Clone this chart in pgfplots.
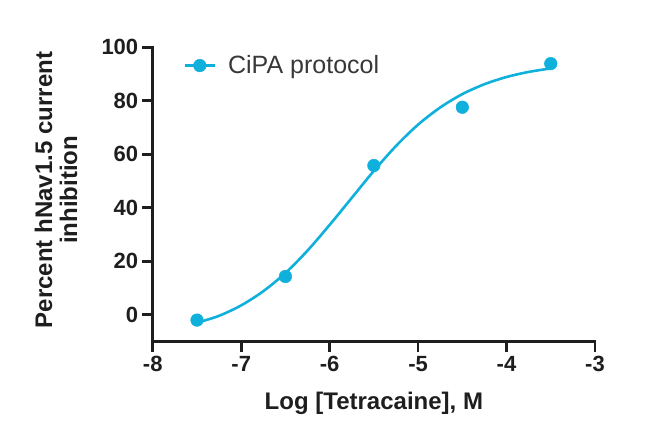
\documentclass[border=0pt]{standalone}
\usepackage{fontspec}
\setmainfont{Liberation Sans}
\usepackage{pgfplots}
\pgfplotsset{compat=1.18}
\definecolor{cipa}{RGB}{16,176,220}
\definecolor{txt}{RGB}{30,30,30}
\begin{document}
\begin{tikzpicture}
\begin{axis}[
  scale only axis,
  width=442pt, height=294pt,
  xmin=-8, xmax=-3, ymin=-10, ymax=100,
  axis lines=left,
  axis line style={-, line width=2.8pt, line cap=rect, color=txt},
  xtick={-8,-7,-6,-5,-4,-3},
  ytick={0,20,40,60,80,100},
  tick align=outside,
  major tick length=10.5pt,
  tick style={line width=2.8pt, color=txt},
  /pgf/number format/assume math mode=true,
  ticklabel style={font=\bfseries\fontsize{22}{25}\selectfont, color=txt},
  yticklabel style={xshift=-0.5pt},
  xticklabel style={yshift=-1pt},
  clip=false,
  xlabel={Log [Tetracaine], M},
  xlabel style={font=\bfseries\fontsize{24}{25}\selectfont, color=txt, at={(axis description cs:0.5,0)}, anchor=base, yshift=-68pt},
  ylabel={Percent hNav1.5 current\\inhibition},
  ylabel style={font=\bfseries\fontsize{24}{25}\selectfont, color=txt, align=center, at={(axis description cs:-0.219,0.515)}, anchor=center},
  legend style={draw=none, fill=none, at={(axis description cs:0.069,0.938)}, anchor=west, font=\fontsize{25}{28}\selectfont, text=black!78, inner sep=0pt},
  legend image code/.code={\draw[#1, mark repeat=2, mark phase=2] plot coordinates {(0pt,0pt) (15pt,0pt) (30pt,0pt)}; \path (40pt,0pt);},
]
\addplot[color=cipa, line width=2.6pt, mark=*, mark size=6.3pt, mark options={fill=cipa, draw=cipa, line width=0.5pt}, only marks, forget plot] coordinates {
  (-7.5,-2) (-6.5,14.3) (-5.5,55.8) (-4.5,77.6) (-3.5,93.9)
};
\addplot[color=cipa, line width=2.6pt, smooth, no marks, forget plot] coordinates {
  (-7.5,-3.0) (-7.25,-0.4) (-7,3.5) (-6.75,8.8) (-6.5,15.6) (-6.25,24.0) (-6,33.6)
  (-5.75,43.7) (-5.5,53.8) (-5.25,63.1) (-5,71.1) (-4.75,77.5) (-4.5,82.5)
  (-4.25,86.2) (-4,88.9) (-3.75,90.8) (-3.5,92.1)
};
\addlegendimage{color=cipa, line width=2.6pt, mark=*, mark size=6.3pt, mark options={fill=cipa, draw=cipa, line width=0.5pt}}
\addlegendentry{CiPA protocol}
\end{axis}
\path ([xshift=-152.7pt,yshift=-101.3pt]current axis.south west) rectangle ([xshift=55pt,yshift=47.3pt]current axis.north east);
\end{tikzpicture}
\end{document}
